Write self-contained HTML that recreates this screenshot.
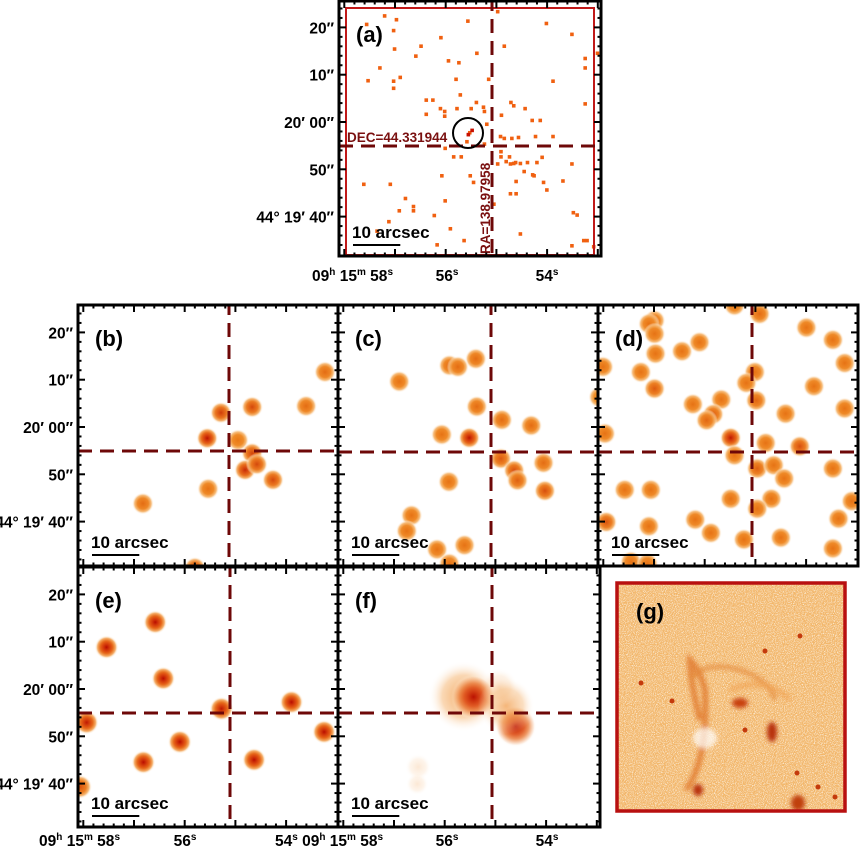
<!DOCTYPE html>
<html><head><meta charset="utf-8"><style>
html,body{margin:0;padding:0;background:#fff}
svg{display:block}
text{font-family:"Liberation Sans",Arial,sans-serif;font-weight:bold;fill:#000}
</style></head><body>
<svg id="fig" width="863" height="848" viewBox="0 0 863 848" xmlns="http://www.w3.org/2000/svg">
<defs>
<radialGradient id="gOr"><stop offset="0" stop-color="#ee8418"/><stop offset="0.5" stop-color="#f0902a"/><stop offset="0.75" stop-color="#f6b870" stop-opacity="0.9"/><stop offset="1" stop-color="#fff" stop-opacity="0"/></radialGradient>
<radialGradient id="gRed"><stop offset="0" stop-color="#b80c00"/><stop offset="0.45" stop-color="#d8380a" stop-opacity="0.75"/><stop offset="1" stop-color="#e86010" stop-opacity="0"/></radialGradient>
<radialGradient id="gHalo"><stop offset="0" stop-color="#ee8a2a" stop-opacity="1"/><stop offset="0.6" stop-color="#f5b470" stop-opacity="0.7"/><stop offset="1" stop-color="#fff" stop-opacity="0"/></radialGradient>
<filter id="noise" x="0" y="0" width="100%" height="100%"><feTurbulence type="fractalNoise" baseFrequency="1.1" numOctaves="1" seed="3"/><feColorMatrix type="matrix" values="0 0 0 0 1  0 0 0 0 1  0 0 0 0 0.97  2.6 0 0 0 -1.15"/></filter>
<filter id="noise2" x="0" y="0" width="100%" height="100%"><feTurbulence type="fractalNoise" baseFrequency="1.3" numOctaves="1" seed="9"/><feColorMatrix type="matrix" values="0 0 0 0 0.9  0 0 0 0 0.45  0 0 0 0 0.1  0 3 0 0 -1.8"/></filter>
<filter id="blur2"><feGaussianBlur stdDeviation="2"/></filter>
</defs>
<g id="layer"></g>
</svg>
<script>
// ---------------- data (arcsec offsets from crosshair: dx east->right, dy north->up) ----------------
const dotsA_dx=[-22.7,-20.2,-26.5,-20.8,-5.1,1.2,11.5,16.9,-10.8,-15,-20.6,-16.1,-3.2,2.6,-9.2,-7,-23.7,19.7,19.7,22.3,-19.4,-20.8,-26.2,-20.8,-7.6,-0.7,12.9,-6.7,-13.9,-12.5,4,4.6,-3.3,-1.8,-10.9,-10,-7.4,-4.4,7,-1.6,19.7,-13.9,-10,2,8.5,10.2,-1.1,-4.7,-5.3,1.8,2.6,4.2,5.6,9.2,12.9,-9.9,-1.6,1.9,-8.1,-6.5,1.9,3.7,3,3.9,4.6,5,6,7.5,9.5,10.6,16.9,1.2,6.8,8.6,8.9,-10.6,-4.6,-3.9,5.1,10.9,15,-27.1,-21.5,11.6,3.9,5.1,-18.3,-9.9,0.4,-16.6,-16.6,-19.6,-12.2,17.2,18,-21.8,-8.8,-24.3,6,19.4,20.1,-11.6,-5.9,16.9,21.5,-4.2,-5.0];
const dotsA_dy=[27.5,26.7,25.7,24.4,26.4,28.4,25.9,23.6,22.9,21.1,20.5,19,19.6,21.1,18,17.6,16.5,18.5,16.5,19.6,14.5,13.7,13.8,12.2,14.1,14.1,13.7,10.8,9.7,9.7,9.2,8.5,9.2,8.2,7.9,7.3,7.9,7.9,7.9,7.3,8.9,6.7,6.3,6.5,5.4,5.4,4.6,2.8,0.9,2,1.6,1.6,1.8,2,2,-0.5,0.4,-1.2,-2.3,-2.3,-2.3,-2.3,-3.3,-3.8,-3.7,-3.5,-3.7,-3.5,-3.5,-2.4,-3.8,-3.8,-5.4,-6.1,-6.3,-6.3,-6.3,-7.7,-7.5,-7.7,-7.4,-8.1,-8.1,-9.3,-10.1,-10.1,-11.1,-11.6,-12.3,-12.8,-13.7,-13.7,-14.7,-14.1,-14.6,-16,-17.5,-18,-18.6,-20,-20,-20.9,-20,-21.1,-21.3,3.3,2.4];

const blobsB_dx=[20.3,16.3,4.9,-1.7,-4.6,1.9,4.9,3.4,5.9,9.3,-4.4,-18.2,-7.2];
const blobsB_dy=[16.7,9.5,9.3,8.1,2.7,2.3,-0.5,-4.0,-2.8,-6.1,-8.0,-11.1,-24.7];
const blobsB_i=[0.2,0.2,0.5,0.6,0.95,0.1,0.55,0.75,0.5,0.5,0.15,0.2,0.5];

const blobsC_dx=[-3.2,-8.8,-7.0,-19.4,-3.0,2.3,8.5,-10.4,-4.6,2.1,4.9,5.6,11.1,11.4,-8.9,-16.8,-17.8,-11.4,-5.6,-8.8,22.9];
const blobsC_dy=[19.7,18.3,18.0,14.9,9.6,6.8,5.6,3.7,3.0,-1.4,-3.9,-6.0,-2.3,-8.2,-6.3,-13.4,-16.7,-20.6,-19.7,-23.6,11.6];
const blobsC_i=[0.2,0.2,0.2,0.15,0.2,0.2,0.2,0.15,0.95,0.35,0.45,0.3,0.2,0.45,0.15,0.15,0.15,0.15,0.15,0.15,0.05];

const blobsD_dx=[-20.6,-21.8,-20.6,-3.7,1.6,11.5,17.1,19.6,-11.1,-14.8,-20.4,-31.5,-23.5,-20.6,0.6,-1.2,0.9,13.1,-6.5,-12.5,-8.2,-9.6,19.6,7.1,-4.5,-3.7,2.9,10.1,-31.1,1.1,4.6,6.8,17.1,-26.9,-21.4,-4.5,4.1,1.1,21.1,-30.8,-21.8,-12,-8.7,18.3,-1.7,6.1,17.1,-25.6,-22.1];
const blobsD_dy=[27.8,27.1,25,31,29.2,26.3,23.7,18.8,23.2,21.3,20.8,18,16.9,13.4,16.9,14.6,10.9,13.9,11.1,10.1,8,6.7,9.2,8.1,3.0,-0.7,1.9,1.2,3.9,-3.5,-2.8,-5.6,-3.5,-8,-8,-9.9,-9.9,-12,-10.4,-14.8,-15.7,-14.3,-17.1,-14.1,-18.5,-18.1,-20.4,-23.2,-23.6];
const blobsD_i=[0.15,0.15,0.15,0.1,0.2,0.15,0.15,0.15,0.15,0.15,0.15,0.15,0.15,0.35,0.15,0.15,0.25,0.15,0.15,0.15,0.3,0.25,0.15,0.15,0.9,0.15,0.15,0.45,0.15,0.3,0.15,0.15,0.15,0.15,0.15,0.15,0.15,0.15,0.15,0.4,0.15,0.15,0.15,0.15,0.15,0.15,0.15,0.15,0.15];

const blobsE_dx=[-15.8,-26.1,-14.1,-1.8,13.0,-30.3,-10.6,-18.3,5.1,19.9,-31.7];
const blobsE_dy=[19.2,13.9,7.3,0.9,2.3,-2.0,-6.1,-10.4,-9.9,-4.0,-15.6];
const blobsE_i=[1,1,1,0.9,1,0.9,1,1,1,1,0.4];

const blobsF_dx=[-6,-3.9,5.0,3,-15.6,-15.8,1.5];
const blobsF_dy=[3.5,3.4,-2.8,1.5,-11.4,-15,5.5];
const blobsF_r=[7.5,4.8,4.5,6,2.8,2.4,4];
const blobsF_i=[0.3,0.95,0.9,0.25,0.08,0.08,0.1];

const yTickLabels=['20\u2033','10\u2033','20\u2032 00\u2033','50\u2033','44\u00b0 19\u2032 40\u2033'];
const yTickValues=[20,10,0,-10,-20];
// -----------------------------------------------------------------
const NS='http://www.w3.org/2000/svg';
const layer=document.getElementById('layer');
const S=4.73;
function mk(tag,attrs,parent){const e=document.createElementNS(NS,tag);for(const k in attrs)e.setAttribute(k,attrs[k]);(parent||layer).appendChild(e);return e;}
const panels={
 a:{x:339,y:1,w:262,h:255,cx:492,cy:146,y0:122},
 b:{x:78,y:305,w:260,h:261,cx:229,cy:451,y0:427},
 c:{x:338,y:305,w:260,h:261,cx:491,cy:452,y0:427},
 d:{x:598,y:305,w:260,h:261,cx:752,cy:452,y0:427},
 e:{x:78,y:567,w:260,h:260,cx:230,cy:713,y0:689},
 f:{x:338,y:567,w:262,h:260,cx:492,cy:713,y0:689}
};
function sx(p,dx){return p.cx+dx*S;}
function sy(p,dy){return p.cy-dy*S;}
function panelGroup(key){
 const p=panels[key];
 const cp=mk('clipPath',{id:'clip'+key},document.querySelector('defs'));
 mk('rect',{x:p.x,y:p.y,width:p.w,height:p.h},cp);
 const g=mk('g',{'clip-path':'url(#clip'+key+')'});
 
 
 return g;
}
function blobs(key,dxs,dys,is,r){
 const p=panels[key];const g=panelGroup(key);
 for(let i=0;i<dxs.length;i++){
  const X=sx(p,dxs[i]),Y=sy(p,dys[i]);
  const c=mk('circle',{cx:X,cy:Y,r:r,fill:'url(#gOr)'},g);
  
  
  if(is[i]>0.05){const c2=mk('circle',{cx:X,cy:Y,r:r*0.85,fill:'url(#gRed)',opacity:Math.min(1,is[i])},g);
   
   }
 }
 return g;
}
function crosshair(key){
 const p=panels[key];
 const h=mk('line',{x1:p.x,x2:p.x+p.w,y1:p.cy,y2:p.cy,stroke:'#6e0808','stroke-width':3,'stroke-dasharray':'14 8'});
 
 
 const v=mk('line',{x1:p.cx,x2:p.cx,y1:p.y,y2:p.y+p.h,stroke:'#6e0808','stroke-width':3,'stroke-dasharray':'14 8','stroke-dashoffset':4});
 
 
}
function frame(key,label){
 const p=panels[key];
 const g=mk('g',{});
 
 
 mk('rect',{x:p.x,y:p.y,width:p.w,height:p.h,fill:'none',stroke:'#000','stroke-width':3},g);
 for(let a=-30;a<=30;a+=2){const Y=p.y0-a*S; if(Y<p.y+2||Y>p.y+p.h-2)continue;const L=(a%10===0)?7:3.5;
  mk('line',{x1:p.x,x2:p.x+L,y1:Y,y2:Y,stroke:'#000','stroke-width':2},g);
  mk('line',{x1:p.x+p.w-L,x2:p.x+p.w,y1:Y,y2:Y,stroke:'#000','stroke-width':2},g);}
 const step=50.7;const x0=p.x+56;
 for(let k=-10;k<=30;k++){const X=x0+k*step/5; if(X<p.x+2||X>p.x+p.w-2)continue;const L=(k%5===0)?7:3.5;
  mk('line',{x1:X,x2:X,y1:p.y+p.h-L,y2:p.y+p.h,stroke:'#000','stroke-width':2},g);
  mk('line',{x1:X,x2:X,y1:p.y,y2:p.y+L,stroke:'#000','stroke-width':2},g);}
 const t=mk('text',{x:p.x+17,y:p.y+41,'font-size':22});t.textContent=label;
 
 
 const s=mk('text',{x:p.x+13,y:p.y+p.h-18,'font-size':17});s.textContent='10 arcsec';
 
 
 const b=mk('line',{x1:p.x+14,x2:p.x+14+10*S,y1:p.y+p.h-11,y2:p.y+p.h-11,stroke:'#000','stroke-width':2});
 
 
}
function yLabels(key){
 const p=panels[key];
 for(let i=0;i<yTickLabels.length;i++){
  const t=mk('text',{x:p.x-5,y:p.y0-yTickValues[i]*S+6,'font-size':15.5,'text-anchor':'end'});
  t.textContent=yTickLabels[i];
  
  
 }
}
function raLabel(x,y,anchor,parts,name){
 const t=mk('text',{x:x,y:y,'font-size':15.5,'text-anchor':anchor});
 
 
 parts.forEach(pt=>{const ts=mk('tspan',{},t);ts.textContent=pt[0];
  if(pt[1]){ts.setAttribute('font-size',10);ts.setAttribute('dy',-6);}
  else if(pt[2]){ts.setAttribute('dy',6);} });
}
const full=[['09'],['h',1],[' 15',0,1],['m',1],[' 58',0,1],['s',1]];

(function(){
 const p=panels.a;const g=panelGroup('a');
 for(let i=0;i<dotsA_dx.length;i++){
  const d=mk('rect',{x:sx(p,dotsA_dx[i])-1.8,y:sy(p,dotsA_dy[i])-1.8,width:3.6,height:3.6,fill:(i>=dotsA_dx.length-2)?'#c81000':'#f06010'},g);
  
  
 }
 const r=mk('rect',{x:346,y:8,width:248,height:247,fill:'none',stroke:'#c01818','stroke-width':2});
 
 
 crosshair('a');
 const c=mk('circle',{cx:468,cy:133,r:15,fill:'none',stroke:'#000','stroke-width':2});
 
 
 const t=mk('text',{x:347,y:142,'font-size':13.5,style:'fill:#7a1010'});t.textContent='DEC=44.331944';
 
 
 const t2=mk('text',{x:0,y:0,'font-size':13.5,transform:'translate(490,254) rotate(-90)',style:'fill:#7a1010'});t2.textContent='RA=138.97958';
 
 
 frame('a','(a)');yLabels('a');
 raLabel(393,281,'end',full,'x-tick-label');
 raLabel(447,281,'middle',[['56'],['s',1]],'x-tick-label');
 raLabel(547,281,'middle',[['54'],['s',1]],'x-tick-label');
})();

blobs('b',blobsB_dx,blobsB_dy,blobsB_i,11);crosshair('b');
blobs('c',blobsC_dx,blobsC_dy,blobsC_i,11);crosshair('c');
blobs('d',blobsD_dx,blobsD_dy,blobsD_i,11);crosshair('d');
blobs('e',blobsE_dx,blobsE_dy,blobsE_i,12);crosshair('e');
(function(){const p=panels.f;const g=panelGroup('f');
 for(let i=0;i<blobsF_dx.length;i++){const X=sx(p,blobsF_dx[i]),Y=sy(p,blobsF_dy[i]),R=blobsF_r[i]*S;
  const c=mk('circle',{cx:X,cy:Y,r:R,fill:'url(#gHalo)',opacity:Math.min(1,blobsF_i[i]*2.5)},g);
  
  
  if(blobsF_i[i]>0.5){const c2=mk('circle',{cx:X,cy:Y,r:R*0.9,fill:'url(#gRed)',opacity:blobsF_i[i]},g);
   
   }
 }})();
crosshair('f');
['b','c','d','e','f'].forEach(k=>frame(k,'('+k+')'));
yLabels('b');yLabels('e');
raLabel(120,846,'end',full,'x-tick-label');
raLabel(185,846,'middle',[['56'],['s',1]],'x-tick-label');
raLabel(275,846,'start',[['54'],['s',1],[' 09',0,1],['h',1],[' 15',0,1],['m',1],[' 58',0,1],['s',1]],'x-tick-label');
raLabel(447,846,'middle',[['56'],['s',1]],'x-tick-label');
raLabel(547,846,'middle',[['54'],['s',1]],'x-tick-label');

(function(){
 const g=mk('g',{});
 
 
 const cp=mk('clipPath',{id:'clipg'},document.querySelector('defs'));
 mk('rect',{x:617,y:583,width:228,height:228},cp);
 g.setAttribute('clip-path','url(#clipg)');
 mk('rect',{x:617,y:583,width:228,height:228,fill:'#f2b66a'},g);
 mk('rect',{x:617,y:583,width:228,height:228,fill:'#fff',filter:'url(#noise)'},g);
 mk('rect',{x:617,y:583,width:228,height:228,fill:'#fff',filter:'url(#noise2)',opacity:0.5},g);
 const sm=mk('g',{filter:'url(#blur2)'},g);
 mk('path',{d:'M700 720 Q690 680 690 660 Q700 670 705 690 Q708 760 686 790',stroke:'#e0782a','stroke-width':6,fill:'none',opacity:0.8},sm);
 mk('path',{d:'M690 680 Q705 660 740 670 Q770 680 775 700',stroke:'#e48a3a','stroke-width':5,fill:'none',opacity:0.7},sm);
 mk('path',{d:'M730 690 Q765 675 790 700',stroke:'#f0a050','stroke-width':6,fill:'none',opacity:0.6},sm);
 mk('ellipse',{cx:740,cy:703,rx:8,ry:5,fill:'#c84010'},sm);
 mk('ellipse',{cx:772,cy:732,rx:5,ry:10,fill:'#b83008'},sm);
 mk('ellipse',{cx:698,cy:790,rx:5,ry:6,fill:'#b83008'},sm);
 mk('ellipse',{cx:798,cy:803,rx:7,ry:8,fill:'#c04010'},sm);
 mk('ellipse',{cx:705,cy:738,rx:12,ry:10,fill:'#fff',opacity:0.7},sm);
 [[800,636],[641,683],[672,701],[797,773],[818,787],[835,797],[765,651],[745,730]].forEach(pt=>{
  const c=mk('circle',{cx:pt[0],cy:pt[1],r:2.5,fill:'#c43a0c'},g);
  
  });
 const r=mk('rect',{x:617,y:583,width:228,height:228,fill:'none',stroke:'#b81010','stroke-width':3.5});
 
 
 const t=mk('text',{x:636,y:619,'font-size':22});t.textContent='(g)';
 
 
})();
</script>
</body></html>
